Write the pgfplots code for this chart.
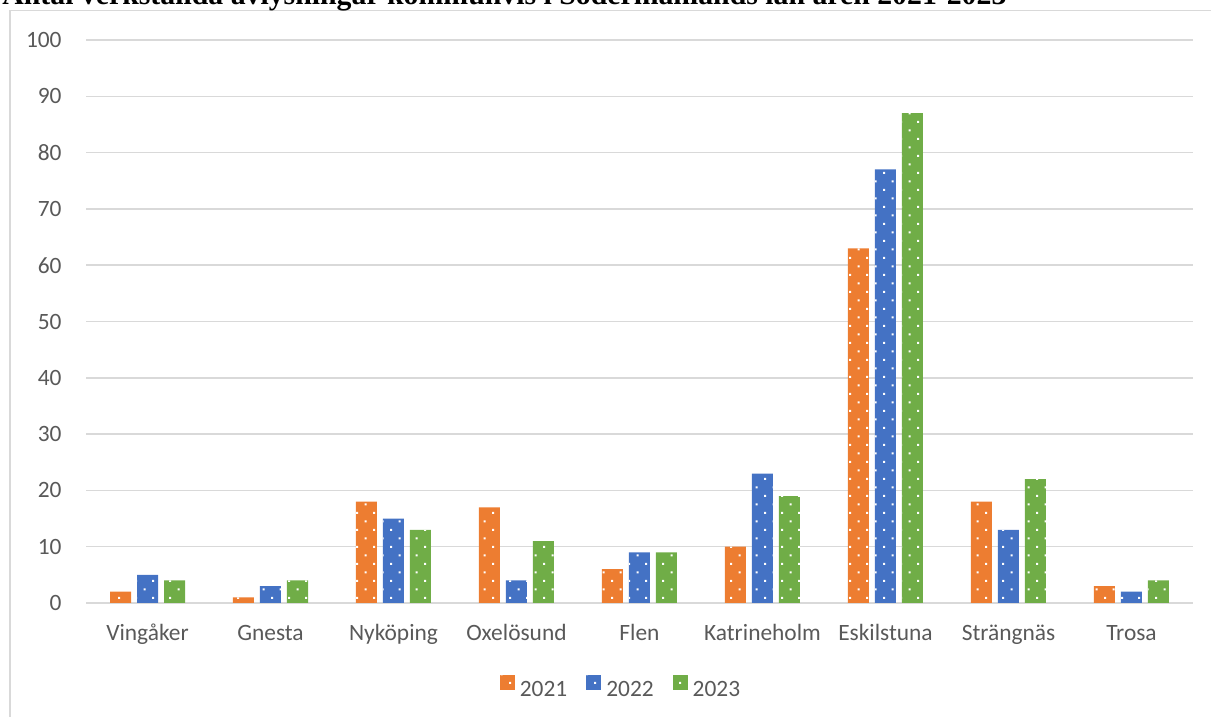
\documentclass[border=0pt]{standalone}
\usepackage{fontspec}
\setmainfont{Carlito}
\newfontfamily\titlefont{Liberation Serif}
\usepackage{pgfplots}
\pgfplotsset{compat=1.18}
\usetikzlibrary{patterns}

\definecolor{c21}{HTML}{ED7D31}
\definecolor{c22}{HTML}{4472C4}
\definecolor{c23}{HTML}{70AD47}
\definecolor{gridc}{HTML}{D9D9D9}
\definecolor{txt}{HTML}{595959}

% sparse white dots like the Excel 5% pattern
\pgfdeclarepatternformonly{exceldots}{\pgfpoint{-0.5pt}{-0.5pt}}{\pgfpoint{8pt}{8pt}}{\pgfpoint{8.5pt}{8.5pt}}{
  \pgfpathrectangle{\pgfpoint{-0.5pt}{-0.5pt}}{\pgfpoint{1pt}{1pt}}
  \pgfpathrectangle{\pgfpoint{3.75pt}{3.75pt}}{\pgfpoint{1pt}{1pt}}
  \pgfusepath{fill}}

\newcommand{\lbl}{\fontsize{11.7}{14}\selectfont}

\begin{document}
\begin{tikzpicture}
\path[use as bounding box, clip] (0,0) rectangle (605.5pt,358.5pt);
\draw[gridc, line width=0.75pt] (5pt,-5pt) -- (5pt,353.25pt) -- (620pt,353.25pt);
\node[anchor=base west, inner sep=0pt] at (1pt,356pt)
  {\resizebox{502pt}{!}{\titlefont\bfseries Antal verkställda avlysningar kommunvis i Södermanlands län åren 2021-2023}};

\begin{axis}[
    at={(43pt,57pt)}, anchor=south west,
    scale only axis,
    width=553.5pt, height=281.5pt,
    ybar=3pt, bar width=10.5pt,
    xmin=-0.5, xmax=8.5,
    ymin=0, ymax=100,
    ytick={0,10,...,100},
    xtick={0,...,8},
    xticklabels={Vingåker,Gnesta,Nyköping,Oxelösund,Flen,Katrineholm,Eskilstuna,Strängnäs,Trosa},
    major tick length=0pt,
    axis line style={draw=none},
    ymajorgrids,
    grid style={gridc, line width=0.75pt},
    tick label style={font=\lbl, text=txt},
    /pgf/number format/assume math mode=true,
    yticklabel style={anchor=east, inner sep=0pt, xshift=-12pt},
    xticklabel style={anchor=base, inner sep=0pt, yshift=-19pt},
    legend style={at={(0.4824,-0.1492)}, anchor=center, draw=none, fill=none,
      legend columns=-1, font=\lbl, text=txt, nodes={inner sep=0pt},
      /tikz/every odd column/.append style={column sep=2.5pt},
      /tikz/every even column/.append style={column sep=9.5pt}},
    legend image code/.code={\path[#1] (0pt,0.1pt) rectangle (7.5pt,7.6pt);},
    ]
\addplot[fill=c21, draw=none, postaction={pattern=exceldots, pattern color=white}]
  coordinates {(0,2) (1,1) (2,18) (3,17) (4,6) (5,10) (6,63) (7,18) (8,3)};
\addplot[fill=c22, draw=none, postaction={pattern=exceldots, pattern color=white}]
  coordinates {(0,5) (1,3) (2,15) (3,4) (4,9) (5,23) (6,77) (7,13) (8,2)};
\addplot[fill=c23, draw=none, postaction={pattern=exceldots, pattern color=white}]
  coordinates {(0,4) (1,4) (2,13) (3,11) (4,9) (5,19) (6,87) (7,22) (8,4)};
\legend{2021,2022,2023}
\end{axis}
\end{tikzpicture}
\end{document}
